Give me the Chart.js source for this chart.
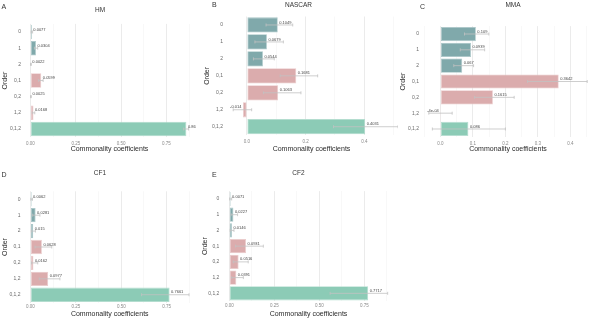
<!DOCTYPE html>
<html>
<head>
<meta charset="utf-8">
<script src="https://cdn.jsdelivr.net/npm/chart.js@4/dist/chart.umd.min.js"></script>
<style>
    html, body { margin: 0; padding: 0; background: #fff; overflow: hidden; }
    body { width: 598px; height: 330px; position: relative; }
    .panel { position: absolute; }
</style>
</head>
<body>
<div class="panel" style="left:0;top:0;width:199px;height:160px"><canvas id="chartA"></canvas></div>
<div class="panel" style="left:199px;top:0;width:199px;height:160px"><canvas id="chartB"></canvas></div>
<div class="panel" style="left:398px;top:0;width:200px;height:160px"><canvas id="chartC"></canvas></div>
<div class="panel" style="left:0;top:160px;width:199px;height:160px"><canvas id="chartD"></canvas></div>
<div class="panel" style="left:199px;top:160px;width:199px;height:160px"><canvas id="chartE"></canvas></div>
<script>
// categories
const orders = ['0', '1', '2', '0,1', '0,2', '1,2', '0,1,2'];
const orderGroups = ['single', 'single', 'single', 'pair', 'pair', 'pair', 'triple'];

// commonality coefficients and error bar bounds, per dataset
const hmCoef = [0.0077, 0.0304, 0.0022, 0.0599, 0.0025, 0.0168, 0.86];
const hmLow = [0.004, 0.022, 0.0005, 0.045, 0.0005, 0.01, 0.845];
const hmHigh = [0.012, 0.04, 0.005, 0.07, 0.005, 0.024, 0.872];

const nascarCoef = [0.1049, 0.0679, 0.0544, 0.1681, 0.1063, -0.014, 0.4031];
const nascarLow = [0.065, 0.027, 0.022, 0.113, 0.056, -0.047, 0.295];
const nascarHigh = [0.156, 0.124, 0.093, 0.241, 0.184, 0.016, 0.515];

const mmaCoef = [0.109, 0.0939, 0.067, 0.3642, 0.1615, -0.0004, 0.086];
const mmaLow = [0.074, 0.061, 0.041, 0.268, 0.105, -0.036, -0.025];
const mmaHigh = [0.149, 0.136, 0.102, 0.452, 0.227, 0.036, 0.2];

const cf1Coef = [0.0062, 0.0281, 0.015, 0.0628, 0.0162, 0.0977, 0.7661];
const cf1Low = [0.002, 0.012, 0.005, 0.025, 0.006, 0.048, 0.612];
const cf1High = [0.011, 0.052, 0.027, 0.117, 0.04, 0.162, 0.873];

const cf2Coef = [0.0071, 0.0227, 0.0146, 0.0931, 0.0516, 0.0391, 0.7717];
const cf2Low = [0.002, 0.01, 0.005, 0.035, 0.022, 0.013, 0.56];
const cf2High = [0.013, 0.046, 0.026, 0.189, 0.105, 0.078, 0.88];

// x tick values and labels
const quarterTicks = [0, 0.25, 0.5, 0.75];
const quarterMinor = [0.125, 0.375, 0.625, 0.875];
const quarterLabels = ['0.00', '0.25', '0.50', '0.75'];
const nascarTicks = [0, 0.2, 0.4];
const nascarMinor = [0.1, 0.3, 0.5];
const nascarLabels = ['0.0', '0.2', '0.4'];
const mmaTicks = [0, 0.1, 0.2, 0.3, 0.4];
const mmaMinor = [-0.05, 0.05, 0.15, 0.25, 0.35, 0.45];
const mmaLabels = ['0.0', '0.1', '0.2', '0.3', '0.4'];

const fontFamily = '"Liberation Sans", Arial, sans-serif';
const fills = { single: '#80a9ab', pair: '#dbacad', triple: '#8ccbb6' };
const edges = { single: '#a9c6c7', pair: '#ebcbcc', triple: '#b4ddcf' };

Chart.defaults.font.family = fontFamily;

function formatCoef(v) {
    if (v !== 0 && Math.abs(v) < 0.001) {
        return v.toExponential(0).replace(/e([+-])(\d)$/, 'e$10$2');
    }
    return String(v);
}

const panelTitlePlugin = {
    id: 'panelTitle',
    afterDraw(chart, args, opts) {
        const { ctx } = chart;
        ctx.save();
        ctx.fillStyle = '#333';
        ctx.textBaseline = 'middle';
        ctx.font = `7px ${fontFamily}`;
        ctx.textAlign = 'left';
        ctx.fillText(opts.tag, opts.tagX, opts.tagY);
        ctx.font = `6.5px ${fontFamily}`;
        ctx.textAlign = 'center';
        ctx.fillText(opts.text, opts.x, opts.y);
        ctx.restore();
    },
};

const errorBarPlugin = {
    id: 'errorBars',
    afterDatasetsDraw(chart, args, opts) {
        const { ctx, scales: { x, y } } = chart;
        ctx.save();
        ctx.strokeStyle = '#c2c2c2';
        ctx.lineWidth = 0.8;
        opts.low.forEach((lo, i) => {
            const x1 = x.getPixelForValue(lo);
            const x2 = x.getPixelForValue(opts.high[i]);
            const yc = y.getPixelForValue(i);
            ctx.beginPath();
            ctx.moveTo(x1, yc);
            ctx.lineTo(x2, yc);
            ctx.moveTo(x1, yc - 1.5);
            ctx.lineTo(x1, yc + 1.5);
            ctx.moveTo(x2, yc - 1.5);
            ctx.lineTo(x2, yc + 1.5);
            ctx.stroke();
        });
        ctx.restore();
    },
};

const valueLabelPlugin = {
    id: 'valueLabels',
    afterDatasetsDraw(chart) {
        const { ctx } = chart;
        const values = chart.data.datasets[0].data;
        ctx.save();
        ctx.font = `4px ${fontFamily}`;
        ctx.fillStyle = '#444';
        ctx.textBaseline = 'middle';
        chart.getDatasetMeta(0).data.forEach((bar, i) => {
            const v = values[i];
            ctx.textAlign = v < 0 ? 'right' : 'left';
            ctx.fillText(formatCoef(v), bar.x + (v < 0 ? -1.5 : 1.5), bar.y - 2.5);
        });
        ctx.restore();
    },
};

function makePanel(id, spec, box) {
    const allTicks = spec.major.concat(spec.minor).sort((a, b) => a - b);

    return new Chart(document.getElementById(id), {
        type: 'bar',
        data: {
            labels: orders,
            datasets: [{
                data: spec.coef,
                backgroundColor: orderGroups.map((g) => fills[g]),
                borderColor: orderGroups.map((g) => edges[g]),
                borderWidth: 0.8,
                borderSkipped: false,
                barPercentage: 0.9,
                categoryPercentage: 1,
            }],
        },
        options: {
            indexAxis: 'y',
            responsive: true,
            maintainAspectRatio: false,
            animation: false,
            layout: { padding: { top: box.plotTop, right: box.padRight, left: 0, bottom: 0 } },
            plugins: {
                legend: { display: false },
                tooltip: { enabled: false },
                title: { display: false },
                panelTitle: { text: spec.title, x: box.titleX, y: box.titleY, tag: spec.tag, tagX: box.tagX, tagY: box.tagY },
                errorBars: { low: spec.low, high: spec.high },
            },
            scales: {
                x: {
                    min: spec.min,
                    max: spec.max,
                    afterBuildTicks: (scale) => { scale.ticks = allTicks.map((v) => ({ value: v })); },
                    afterFit: (scale) => { scale.height = box.xAxisHeight; },
                    grid: {
                        color: (c) => spec.major.includes(c.tick.value) ? '#e6e6e6' : '#f1f1f1',
                        lineWidth: (c) => spec.major.includes(c.tick.value) ? 0.8 : 0.5,
                        drawTicks: false,
                        tickLength: 0,
                    },
                    border: { display: false },
                    ticks: {
                        padding: box.tickPad,
                        color: '#8a8a8a',
                        font: { size: 4.5 },
                        autoSkip: false,
                        maxRotation: 0,
                        callback: (value) => {
                            const i = spec.major.indexOf(value);
                            return i >= 0 ? spec.tickLabels[i] : '';
                        },
                    },
                    title: { display: true, text: 'Commonality coefficients', color: '#2a2a2a', font: { size: 7 }, padding: { top: 0, bottom: box.xTitlePad } },
                },
                y: {
                    afterFit: (scale) => { scale.width = box.yAxisWidth; },
                    grid: { display: false, drawTicks: false, tickLength: 0 },
                    border: { display: false },
                    ticks: { padding: 2, color: '#6a6a6a', font: { size: 5 }, autoSkip: false },
                    title: { display: true, text: 'Order', color: '#2a2a2a', font: { size: 7 }, padding: { top: box.yTitlePad, bottom: 0 } },
                },
            },
        },
        plugins: [errorBarPlugin, valueLabelPlugin, panelTitlePlugin],
    });
}

makePanel('chartA',
    { tag: 'A', title: 'HM', coef: hmCoef, low: hmLow, high: hmHigh, min: -0.041, max: 0.913, major: quarterTicks, minor: quarterMinor, tickLabels: quarterLabels },
    { plotTop: 23.9, padRight: 3, xAxisHeight: 22.9, tickPad: 3.7, xTitlePad: 6.5, yAxisWidth: 23, yTitlePad: 0.8, titleX: 100, titleY: 10, tagX: 1.5, tagY: 7 });

makePanel('chartB',
    { tag: 'B', title: 'NASCAR', coef: nascarCoef, low: nascarLow, high: nascarHigh, min: -0.075, max: 0.515, major: nascarTicks, minor: nascarMinor, tickLabels: nascarLabels },
    { plotTop: 16.5, padRight: 0, xAxisHeight: 24.8, tickPad: 4, xTitlePad: 6.8, yAxisWidth: 26, yTitlePad: 3.8, titleX: 99.5, titleY: 5.2, tagX: 13, tagY: 5.5 });

makePanel('chartC',
    { tag: 'C', title: 'MMA', coef: mmaCoef, low: mmaLow, high: mmaHigh, min: -0.06, max: 0.476, major: mmaTicks, minor: mmaMinor, tickLabels: mmaLabels },
    { plotTop: 26.1, padRight: 3, xAxisHeight: 23.1, tickPad: 3.9, xTitlePad: 6.8, yAxisWidth: 23, yTitlePad: 0.8, titleX: 115, titleY: 5.7, tagX: 22, tagY: 7 });

makePanel('chartD',
    { tag: 'D', title: 'CF1', coef: cf1Coef, low: cf1Low, high: cf1High, min: -0.044, max: 0.917, major: quarterTicks, minor: quarterMinor, tickLabels: quarterLabels },
    { plotTop: 31.3, padRight: 2, xAxisHeight: 17.3, tickPad: 1.5, xTitlePad: 1.8, yAxisWidth: 22.5, yTitlePad: 0.8, titleX: 100, titleY: 13, tagX: 1.5, tagY: 15 });

makePanel('chartE',
    { tag: 'E', title: 'CF2', coef: cf2Coef, low: cf2Low, high: cf2High, min: -0.044, max: 0.924, major: quarterTicks, minor: quarterMinor, tickLabels: quarterLabels },
    { plotTop: 31.1, padRight: 2.4, xAxisHeight: 18.8, tickPad: 2.3, xTitlePad: 1.8, yAxisWidth: 22.4, yTitlePad: 1.8, titleX: 99.5, titleY: 13, tagX: 13, tagY: 15 });
</script>
</body>
</html>
